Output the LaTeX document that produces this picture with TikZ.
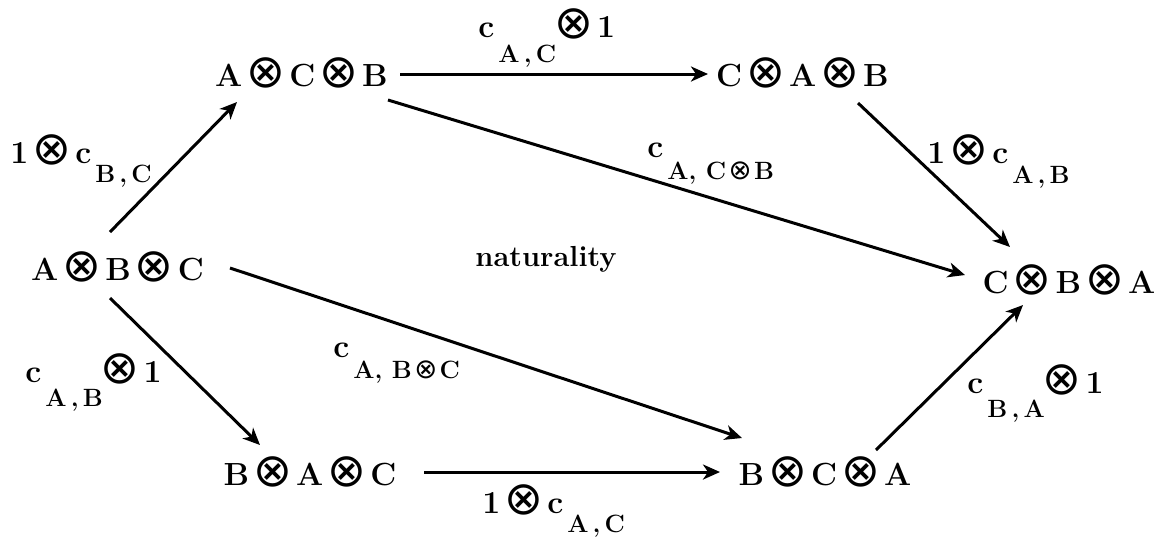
\RequirePackage{fix-cm}
\documentclass[tikz,border=0pt]{standalone}
\usepackage{fontspec}
\newfontfamily\djv{DejaVu Sans}
\usetikzlibrary{arrows.meta}
\newcommand{\oxg}{\raisebox{-0.8pt}{\scalebox{1.45}{\djv\mdseries ⊗}}}
\newcommand{\ox}{\kern2pt\oxg\kern2pt}
\newcommand{\oxs}{\kern1.2pt\raisebox{-0.3pt}{\scalebox{1.1}{\djv\mdseries ⊗}}\kern1.2pt}
\newcommand{\lsub}[2][11pt]{\raisebox{-#1}{\fontsize{12.5}{14}\selectfont #2}}
\tikzset{
  obj/.style={inner sep=0pt, anchor=base, font=\fontsize{16}{20}\selectfont\bfseries},
  lbl/.style={inner sep=0pt, anchor=base west, font=\fontsize{16}{20}\selectfont\bfseries},
  arr/.style={-{Stealth[length=8.5pt,width=7.5pt,inset=2.5pt]}, line width=1.5pt}
}
\begin{document}
\begin{tikzpicture}[x=0.5pt,y=-0.5pt]
\useasboundingbox (0,0) rectangle (1165,538);
\node[obj] (ACB) at (301.5,86) {A\ox C\ox B};
\node[obj] (CAB) at (802.5,86) {C\ox A\ox B};
\node[obj] (ABC) at (117.5,280) {A\ox B\ox C};
\node[obj] (CBA) at (1069,293) {C\ox B\ox A};
\node[obj] (BAC) at (310,485) {B\ox A\ox C};
\node[obj] (BCA) at (825,485) {B\ox C\ox A};
\node[inner sep=0pt, anchor=base, font=\fontsize{14.5}{17}\selectfont\bfseries] (nat) at (546,266) {naturality};

\draw[arr] ([shift={(-7.5,-48)}]ABC.base) -- ([shift={(-64.5,16)}]ACB.base);
\draw[arr] ([shift={(-7.5,18)}]ABC.base) -- ([shift={(-50,-40)}]BAC.base);
\draw[arr] ([shift={(112.5,-12)}]ABC.base) -- ([shift={(-83,-47)}]BCA.base);
\draw[arr] ([shift={(98.5,-12)}]ACB.base) -- ([shift={(-94.5,-12)}]CAB.base);
\draw[arr] ([shift={(86.5,14)}]ACB.base) -- ([shift={(-104,-18)}]CBA.base);
\draw[arr] ([shift={(55.5,17)}]CAB.base) -- ([shift={(-59,-46)}]CBA.base);
\draw[arr] ([shift={(114,-13)}]BAC.base) -- ([shift={(-105,-13)}]BCA.base);
\draw[arr] ([shift={(51,-35)}]BCA.base) -- ([shift={(-46,12)}]CBA.base);

\node[lbl] (l1) at (478,37) {c\kern2pt\lsub[12.5pt]{A\,,\,C}\kern-3pt\ox 1};
\node[lbl] (l2) at (10,163) {1\ox c\kern2pt\lsub[9.5pt]{B\,,\,C}};
\node[lbl] (l3) at (647,157) {c\kern2pt\lsub[11pt]{A, C\oxs B}};
\node[lbl] (l4) at (927,163) {1\ox c\kern2pt\lsub[10pt]{A\,,\,B}};
\node[lbl] (l5) at (333,357) {c\kern2pt\lsub[10.5pt]{A, B\oxs C}};
\node[lbl] (l6) at (25,382) {c\kern2pt\lsub[12pt]{A\,,\,B}\kern-3pt\ox 1};
\node[lbl] (l7) at (482,513) {1\ox c\kern2pt\lsub[9.5pt]{A\,,\,C}};
\node[lbl] (l8) at (967,393) {c\kern2pt\lsub[12pt]{B\,,\,A}\kern-3pt\ox 1};
\end{tikzpicture}
\end{document}
